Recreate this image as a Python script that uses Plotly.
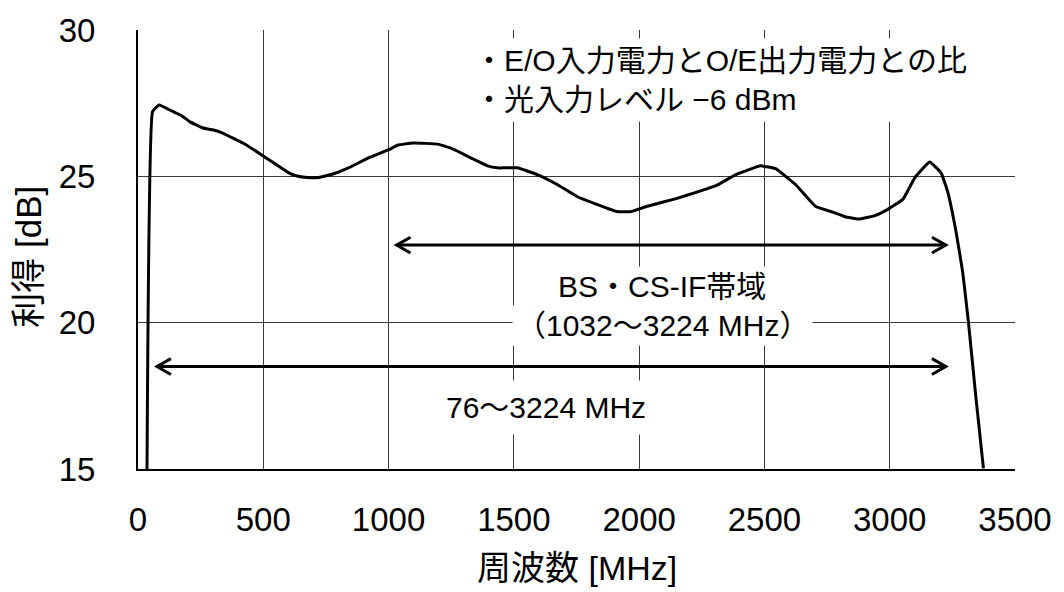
import plotly.graph_objects as go

# Measured gain of the E/O -> O/E link versus frequency
freq_mhz = [36, 58, 84, 140, 173, 206, 259, 298, 338, 378, 431, 501, 550, 602, 635,
            674, 721, 781, 840, 920, 999, 1038, 1098, 1197, 1256, 1336, 1395, 1435,
            1514, 1593, 1673, 1752, 1831, 1910, 1970, 2029, 2148, 2227, 2307, 2386,
            2485, 2545, 2624, 2703, 2782, 2822, 2875, 2941, 2994, 3053, 3100, 3159,
            3205, 3232, 3265, 3291, 3314, 3344, 3374]
gain_db = [15.0, 27.21, 27.44, 27.21, 27.08, 26.87, 26.65, 26.59, 26.48, 26.31, 26.08,
           25.69, 25.41, 25.12, 25.01, 24.96, 24.96, 25.09, 25.29, 25.63, 25.9, 26.07,
           26.14, 26.1, 25.94, 25.6, 25.36, 25.29, 25.29, 25.06, 24.72, 24.31, 24.04,
           23.8, 23.8, 23.97, 24.24, 24.45, 24.68, 25.06, 25.36, 25.26, 24.72, 23.98,
           23.75, 23.62, 23.54, 23.66, 23.88, 24.22, 24.95, 25.49, 25.12, 24.45, 23.09,
           21.74, 20.03, 17.45, 15.02]

# Frequency bands marked with double-headed arrows: (start, end, gain level)
band_bscs = (1032, 3224, 22.65)
band_full = (76, 3224, 18.5)

x_ticks = [0, 500, 1000, 1500, 2000, 2500, 3000, 3500]
y_ticks = [15, 20, 25, 30]

W, H = 1064, 592
M = dict(l=138, r=43, t=26, b=123)
X_RANGE = [0, 3500]
Y_RANGE = [15, 30]
pw = W - M["l"] - M["r"]
ph = H - M["t"] - M["b"]
ux = (X_RANGE[1] - X_RANGE[0]) / pw   # data units per pixel
uy = (Y_RANGE[1] - Y_RANGE[0]) / ph

FONT = "Liberation Sans, Arial, Noto Sans CJK JP, sans-serif"
HEAD_LEN, HEAD_HALF = 14, 8   # arrow head size in pixels


def py(px_from_top):
    """Paper y coordinate for a pixel row of the figure."""
    return (H - M["b"] - px_from_top) / ph


def band_arrow(x0, x1, y):
    """Horizontal double arrow with open chevron heads."""
    line = dict(color="black", width=3)
    hx, hy = HEAD_LEN * ux, HEAD_HALF * uy
    return [
        dict(type="line", x0=x0, x1=x1, y0=y, y1=y, xref="x", yref="y", line=line),
        dict(type="path", xref="x", yref="y", line=line,
             path=f"M {x0 + hx},{y + hy} L {x0},{y} L {x0 + hx},{y - hy}"),
        dict(type="path", xref="x", yref="y", line=line,
             path=f"M {x1 - hx},{y + hy} L {x1},{y} L {x1 - hx},{y - hy}"),
    ]


fig = go.Figure()
fig.add_trace(go.Scatter(
    x=freq_mhz, y=gain_db, mode="lines",
    line=dict(color="black", width=3, shape="spline", smoothing=0.3),
    showlegend=False, hoverinfo="skip",
))

shapes = band_arrow(*band_bscs) + band_arrow(*band_full)

ann_font = dict(family=FONT, size=30, color="black")
annotations = [
    dict(text="・E/O入力電力とO/E出力電力との比<br>・光入力レベル −6 dBm",
         xref="paper", yref="paper",
         x=(470 - M["l"]) / pw, y=py(76),
         xanchor="left", yanchor="middle", align="left",
         showarrow=False, font=ann_font, bgcolor="white", borderpad=5),
    dict(text="BS・CS-IF帯域", xref="x", yref="paper",
         x=2093, y=py(285),
         xanchor="center", yanchor="middle",
         showarrow=False, font=ann_font, bgcolor="white", borderpad=3),
    dict(text="（1032〜3224 MHz）", xref="x", yref="paper",
         x=2093, y=py(324),
         xanchor="center", yanchor="middle",
         showarrow=False, font=ann_font, bgcolor="white", borderpad=3),
    dict(text="76〜3224 MHz", xref="x", yref="paper",
         x=1630, y=py(407),
         xanchor="center", yanchor="middle",
         showarrow=False, font=ann_font, bgcolor="white", borderpad=10),
    dict(text="周波数 [MHz]", xref="paper", yref="paper",
         x=(580 - M["l"]) / pw, y=py(569),
         xanchor="center", yanchor="middle", showarrow=False,
         font=dict(family=FONT, size=34, color="black")),
    dict(text="利得 [dB]", xref="paper", yref="paper",
         x=(28 - M["l"]) / pw, y=py(255), textangle=-90,
         xanchor="center", yanchor="middle", showarrow=False,
         font=dict(family=FONT, size=35, color="black")),
]

axis_common = dict(
    showgrid=True, gridcolor="#3a3a3a", gridwidth=1,
    zeroline=False, showline=True, linecolor="black", linewidth=2,
    ticks="", tickfont=dict(family=FONT, size=33, color="black"),
)

fig.update_layout(
    width=W, height=H, margin=M,
    paper_bgcolor="white", plot_bgcolor="white",
    xaxis=dict(range=X_RANGE, tickvals=x_ticks, ticklabelstandoff=20, **axis_common),
    yaxis=dict(range=Y_RANGE, tickvals=y_ticks, ticklabelstandoff=34, **axis_common),
    shapes=shapes, annotations=annotations,
)

fig.write_html("out.html")
